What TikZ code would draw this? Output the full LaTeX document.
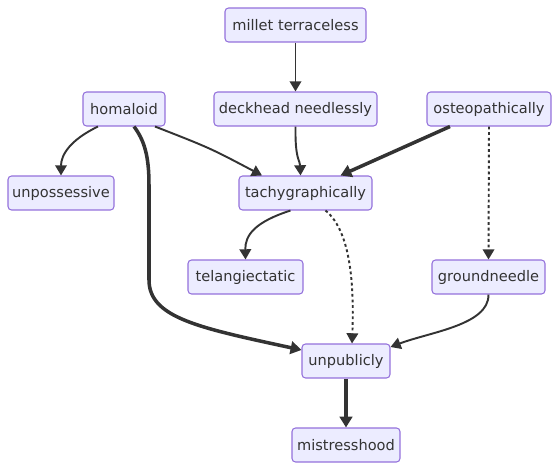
\documentclass[tikz,border=0pt]{standalone}
\usepackage{fontspec}
\setmainfont{DejaVu Sans}
\usetikzlibrary{arrows.meta,calc}

\begin{document}
\begin{tikzpicture}[x=0.02cm, y=-0.02cm,
    box/.style={draw=borderColour, fill=fillColour, line width=0.6pt, rounded corners=2pt,
        minimum height=0.68cm, inner sep=0pt, text=textColour, font=\fontsize{8.3}{10}\selectfont},
    edge/.style={draw=lineColour, line width=1.1pt, -{Triangle[length=5.8pt,width=6.6pt]}},
    thickedge/.style={edge, line width=2pt, -{Triangle[length=6.2pt,width=7.2pt]}},
    dottededge/.style={edge, dash pattern=on 1.6pt off 1.6pt}]
    \definecolor{borderColour}{HTML}{9370DB}
    \definecolor{fillColour}{HTML}{ECECFF}
    \definecolor{lineColour}{HTML}{333333}
    \definecolor{textColour}{HTML}{333333}

    \useasboundingbox (0,0) rectangle (559,470);

    % Draw nodes
    \node[box, minimum width=2.82cm] (millet) at (295.5,25) {millet terraceless};
    \node[box, minimum width=1.64cm] (homaloid) at (124,109) {homaloid};
    \node[box, minimum width=3.26cm] (deckhead) at (295.5,109) {deckhead needlessly};
    \node[box, minimum width=2.48cm] (osteo) at (489,109) {osteopathically};
    \node[box, minimum width=2.12cm] (unposs) at (61,193) {unpossessive};
    \node[box, minimum width=2.66cm] (tachy) at (305.5,193) {tachygraphically};
    \node[box, minimum width=2.30cm] (telang) at (245.5,277) {telangiectatic};
    \node[box, minimum width=2.26cm] (ground) at (488.5,277) {groundneedle};
    \node[box, minimum width=1.76cm] (unpub) at (346,361) {unpublicly};
    \node[box, minimum width=2.16cm] (mistress) at (346,445) {mistresshood};

    % Draw edges
    \draw[edge] (millet) -- (deckhead);
    \draw[edge] ($(homaloid.south)+(-26,0)$) .. controls (70,140) and (61,155) .. (unposs.north);
    \draw[edge] ($(homaloid.south)+(31,0)$) .. controls (210,148) .. ($(tachy.north)+(-43.5,0)$);
    \draw[thickedge] ($(homaloid.south)+(10,0)$) .. controls (144,140) and (149,155) .. (149,185)
        -- (149,280) .. controls (149,318) and (200,328) .. ($(unpub.west)+(0,-11)$);
    \draw[edge] (deckhead.south) .. controls (295,160) and (300,160) .. ($(tachy.north)+(-5,0)$);
    \draw[thickedge] ($(osteo.south)+(-39,0)$) -- ($(tachy.north)+(35,0)$);
    \draw[dottededge] (osteo.south) -- (ground.north);
    \draw[edge] ($(tachy.south)+(-15,0)$) .. controls (255,222) and (245,235) .. (telang.north);
    \draw[dottededge] ($(tachy.south)+(20,0)$) .. controls (352,232) and (354,290) .. ($(unpub.north)+(6,0)$);
    \draw[edge] (ground.south) .. controls (489,325) and (430,332) .. ($(unpub.east)+(0,-14)$);
    \draw[thickedge] (unpub) -- (mistress);

\end{tikzpicture}
\end{document}
